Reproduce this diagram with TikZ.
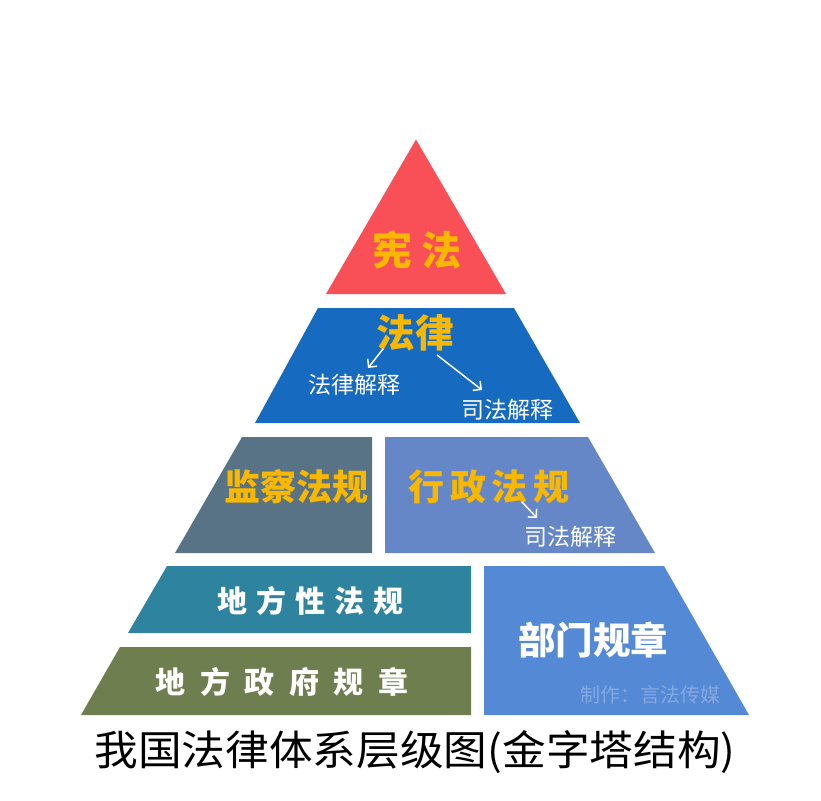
\documentclass[tikz,border=0pt]{standalone}
\usepackage{fontspec}
\newfontfamily\cjk{Noto Sans CJK SC}
\newfontfamily\cjkwide[FakeStretch=1.06]{Noto Sans CJK SC}
\usetikzlibrary{arrows.meta}
\definecolor{xianred}{RGB}{249,79,87}
\definecolor{lawblue}{RGB}{22,106,192}
\definecolor{jianslate}{RGB}{88,115,133}
\definecolor{xingblue}{RGB}{101,135,200}
\definecolor{difteal}{RGB}{46,131,158}
\definecolor{zhengolive}{RGB}{110,126,78}
\definecolor{bumenblue}{RGB}{84,137,213}
\definecolor{labelgold}{RGB}{248,183,0}
\definecolor{markblue}{RGB}{134,168,224}
\tikzset{>={Straight Barb[length=6pt,width=12pt]},auto}
\tikzset{
    goldbig/.style={text=labelgold,inner sep=0pt,
        font=\cjk\bfseries\fontsize{#1}{#1}\selectfont},
    whitebig/.style={text=white,inner sep=0pt,
        font=\cjk\bfseries\fontsize{#1}{#1}\selectfont},
    interp/.style={text=white,inner sep=0pt,
        font=\cjk\fontsize{23}{23}\selectfont},
    interparrow/.style={->,draw=white,line width=1.5pt}
}

\begin{document}
\begin{tikzpicture}[x=1pt,y=-1pt]
    \useasboundingbox (0,0) rectangle (821,800);
    \fill[white] (0,0) rectangle (821,800);
    % pyramid layers
    \fill[xianred]    (416,139.5) -- (506,294) -- (326,294) -- cycle;
    \fill[lawblue]    (318,308) -- (514,308) -- (580,423) -- (255,423) -- cycle;
    \fill[jianslate]  (242,437) -- (372,437) -- (372,553) -- (175,553) -- cycle;
    \fill[xingblue]   (385,437) -- (588,437) -- (655,553) -- (385,553) -- cycle;
    \fill[difteal]    (167,566) -- (471,566) -- (471,633) -- (128,633) -- cycle;
    \fill[zhengolive] (120,647) -- (471,647) -- (471,715) -- (81,715) -- cycle;
    \fill[bumenblue]  (484,566) -- (664,566) -- (749,715) -- (484,715) -- cycle;
    % labels
    \node[goldbig=40] (xianfa) at (417,250) {宪\hspace{9pt}法};
    \node[goldbig=38.5] (falv) at (415,333) {法律};
    \node[interp] (falvjs) at (354,385) {法律解释};
    \node[interp] (sifajs) at (507,410) {司法解释};
    \node[goldbig=36] (jiancha) at (296,487) {监察法规};
    \node[goldbig=36] (xingzheng) at (489,487) {行\hspace{5.5pt}政\hspace{5.5pt}法\hspace{5.5pt}规};
    \node[interp] (xzsifa) at (570,537) {司法解释};
    \node[whitebig=30] (difang) at (310,601) {地\hspace{9pt}方\hspace{9pt}性\hspace{9pt}法\hspace{9pt}规};
    \node[whitebig=30] (zhengfu) at (282,682) {地\hspace{14.5pt}方\hspace{14.5pt}政\hspace{14.5pt}府\hspace{14.5pt}规\hspace{14.5pt}章};
    \node[whitebig=37.5] (bumen) at (593,640) {部门规章};
    \node[text=markblue,inner sep=0pt,font=\cjk\fontsize{20}{20}\selectfont]
        (mark) at (650,695) {制作：言法传媒};
    \node[text=black,inner sep=0pt,font=\cjkwide\fontsize{41.2}{41.2}\selectfont]
        (title) at (415,752) {我国法律体系层级图(金字塔结构)};
    % interpretation arrows
    \coordinate (fl1) at (383,349);
    \coordinate (fl2) at (368,368);
    \coordinate (sf1) at (437,355);
    \coordinate (sf2) at (482,390);
    \coordinate (xz1) at (522,502);
    \coordinate (xz2) at (537,518);
    \draw[interparrow] (fl1) -- (fl2);
    \draw[interparrow] (sf1) -- (sf2);
    \draw[interparrow] (xz1) -- (xz2);
\end{tikzpicture}
\end{document}
